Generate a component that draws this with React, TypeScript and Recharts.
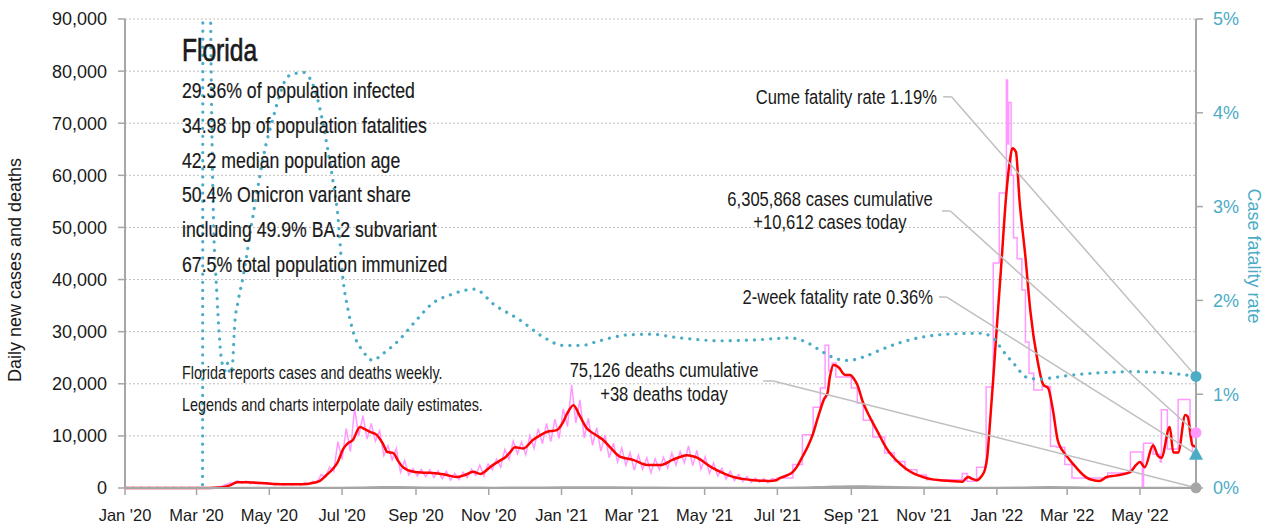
import React from "react";
import {
  ComposedChart,
  Line,
  XAxis,
  YAxis,
  CartesianGrid,
  ReferenceDot,
  ReferenceLine,
} from "recharts";

// ---------------- data ----------------
const xTickDays = [0, 60, 121, 182, 244, 305, 366, 425, 486, 547, 609, 670, 731, 790, 851];
const xTickLabels = [
  "Jan '20", "Mar '20", "May '20", "Jul '20", "Sep '20", "Nov '20",
  "Jan '21", "Mar '21", "May '21", "Jul '21", "Sep '21", "Nov '21",
  "Jan '22", "Mar '22", "May '22",
];
const leftTicks = [0, 10000, 20000, 30000, 40000, 50000, 60000, 70000, 80000, 90000];
const rightTicks = [0, 1, 2, 3, 4, 5];

// 7-day average of new cases (day index since Jan 1 2020)
const avgDays = [
  0, 60, 70, 76, 82, 88, 94, 102, 110, 119, 126, 135, 145, 152, 158, 163, 169, 174, 178, 183,
  187, 191, 197, 201, 205, 211, 216, 220, 225, 229, 233, 242, 250, 258, 268, 278, 285, 292, 298, 302,
  306, 314, 319, 323, 327, 334, 342, 348, 354, 362, 367, 371, 376, 381, 387, 394, 401, 408, 415, 426,
  438, 449, 459, 466, 471, 476, 480, 487, 493, 502, 510, 518, 527, 535, 541, 546, 549, 555, 560, 564,
  568, 573, 577, 580, 583, 586, 589, 591, 594, 597, 599, 602, 604, 608, 611, 614, 619, 623, 627, 632,
  636, 640, 644, 650, 656, 662, 669, 676, 683, 692, 702, 705, 707, 710, 714, 718, 721, 723, 725, 728,
  731, 735, 739, 742, 744, 747, 750, 755, 759, 765, 770, 774, 778, 782, 786, 790, 798, 803, 807, 812,
  817, 823, 828, 834, 843, 848, 851, 855, 862, 866, 869, 876, 879, 883, 889, 891, 895, 898,
];
const avgCases = [
  0, 0, 0, 30, 150, 500, 1100, 1100, 1000, 900, 750, 700, 700, 750, 1000, 1300, 2500, 3600, 4800, 7500,
  8600, 9200, 11700, 11300, 10800, 10200, 8600, 6900, 6700, 5200, 4000, 3100, 2950, 2900, 2600, 2100, 2500, 3100, 2700, 3200,
  4000, 5200, 5900, 6900, 7800, 7600, 9200, 10100, 10800, 11100, 12500, 14400, 15900, 14000, 11500, 10300, 9200, 7500, 6000, 5400,
  4400, 4400, 5400, 6000, 6300, 6100, 5800, 4700, 3800, 2800, 2100, 1750, 1500, 1400, 1350, 1500, 1900, 2400, 3100, 4300,
  6000, 8200, 10500, 12800, 15000, 17000, 18200, 21300, 23600, 23400, 23000, 22000, 21700, 21700, 21000, 19800, 16300, 14300, 12500, 10400,
  8600, 7100, 6000, 4600, 3500, 2700, 2100, 1700, 1500, 1350, 1200, 1800, 2100, 1800, 1500, 2200, 3500, 6000, 11700, 21000,
  30900, 43700, 56600, 62900, 65200, 64500, 55300, 44300, 34200, 24600, 19800, 19200, 15000, 9200, 7200, 6000, 3800, 2600, 1900, 1500,
  1350, 2100, 2300, 2500, 3100, 4500, 5000, 4000, 8200, 6200, 5800, 11700, 6800, 6800, 14000, 13700, 8200, 7900,
];

// daily new cases, Feb 26 2020 - Jun 30 2021, every 3.5 days
const dailyStartDay = 56;
const dailyStepDays = 3.5;
const dailyNoisyCases = [
  0, 0, 10, 20, 50, 80, 200, 300, 600, 900,
  1000, 1400, 900, 1300, 800, 1200, 800, 1100, 700, 900,
  550, 850, 550, 850, 600, 850, 600, 1000, 700, 1300,
  1000, 2600, 2000, 4000, 3200, 8900, 5500, 11400, 7000, 15300,
  10000, 13900, 9400, 12400, 9000, 11000, 6200, 8100, 5400, 7600,
  3000, 5300, 2500, 3700, 2300, 3600, 2200, 3500, 2000, 3300,
  1800, 3200, 1500, 2800, 1600, 3000, 2000, 3600, 2400, 4400,
  2300, 4600, 3500, 5500, 4000, 7400, 5500, 9000, 6600, 8800,
  6400, 10100, 7600, 11400, 8500, 12400, 8900, 13200, 9500, 15200,
  11800, 19800, 12500, 16900, 9600, 13400, 8200, 11600, 7100, 10200,
  5800, 8600, 5000, 7700, 4400, 6800, 3400, 6300, 3600, 5800,
  2900, 5600, 3500, 5900, 3800, 6700, 4400, 7000, 4800, 8100,
  4300, 7200, 3600, 6000, 2800, 4800, 2300, 3800, 1700, 3200,
  1400, 2600, 1200, 2200, 1100, 1900, 1100, 1800, 1000, 1800,
  1600,
];

// weekly-reported daily cases (step values), Jul 2021 onwards
const weeklyDays = [
  546, 560, 568, 577, 583, 587, 590, 593, 596, 609, 614, 619, 627, 637, 645, 654, 664, 672, 702, 706,
  714, 722, 728, 733, 739, 740, 741, 743, 745, 748, 752, 755, 758, 762, 769, 776, 781, 788, 794, 824,
  843, 853, 854, 862, 868, 869, 874, 883, 893, 895, 898,
];
const weeklyCases = [
  1900, 4500, 10200, 15500, 19200, 27400, 22500, 24000, 21300, 19200, 16300, 13000, 9800, 6700, 5100, 3500, 2500, 1600, 2800, 1300,
  4000, 19400, 43200, 56600, 78300, 66000, 74000, 60000, 48000, 44000, 38000, 28000, 22000, 18800, 19500, 8000, 7800, 4500, 1900, 2900,
  6900, 0, 8600, 6500, 5000, 15000, 7500, 17000, 10000, 6700, 10612,
];

// daily deaths
const deathDays = [0, 70, 85, 100, 120, 150, 180, 200, 215, 230, 250, 280, 310, 340, 370, 400, 430, 460, 500, 540, 565, 590, 610, 625, 645, 670, 700, 730, 755, 775, 795, 820, 850, 880, 898];
const deathValues = [0, 0, 20, 50, 50, 40, 60, 120, 180, 170, 120, 90, 70, 90, 150, 150, 110, 70, 60, 40, 80, 250, 350, 300, 200, 100, 40, 50, 120, 180, 130, 50, 30, 30, 38];

// cumulative case fatality rate (%)
const cfrDays = [
  0, 65, 66, 70, 74, 77, 81, 84, 86, 88, 90, 92, 95, 99, 106, 113, 118, 123, 130, 136,
  143, 150, 153, 157, 161, 165, 169, 174, 178, 183, 187, 191, 200, 208, 215, 230, 243, 258, 273, 293,
  310, 330, 352, 367, 383, 398, 420, 440, 465, 499, 530, 558, 572, 585, 596, 606, 620, 633, 650, 669,
  690, 717, 728, 734, 740, 745, 750, 756, 767, 780, 792, 820, 845, 879, 898,
];
const cfrPct = [
  0, 0, 30, 9, 2.96, 2.08, 1.36, 1.25, 1.33, 1.22, 1.3, 1.75, 2.0, 2.25, 2.8, 3.32, 3.65, 3.89, 4.2, 4.38,
  4.42, 4.43, 4.4, 4.32, 4.17, 3.95, 3.68, 3.3, 2.96, 2.2, 1.9, 1.68, 1.45, 1.36, 1.42, 1.58, 1.77, 1.97, 2.06, 2.12,
  1.95, 1.8, 1.6, 1.52, 1.52, 1.57, 1.63, 1.64, 1.6, 1.57, 1.58, 1.6, 1.55, 1.45, 1.38, 1.36, 1.4, 1.47, 1.55, 1.61,
  1.64, 1.65, 1.6, 1.5, 1.4, 1.33, 1.25, 1.18, 1.16, 1.18, 1.2, 1.23, 1.24, 1.22, 1.19,
];

const lastDay = 898;
const todayCases = 10612;
const todayDeaths = 38;
const cumeCfr = 1.19;
const twoWeekCfr = 0.36;

const stateName = "Florida";
const statLines = [
  "29.36% of population infected",
  "34.98 bp of population fatalities",
  "42.2 median population age",
  "50.4% Omicron variant share",
  "including 49.9% BA.2 subvariant",
  "67.5% total population immunized",
];
const noteLines = [
  "Florida reports cases and deaths weekly.",
  "Legends and charts interpolate daily estimates.",
];
const cumeCfrLabel = "Cume fatality rate 1.19%";
const casesLabel = ["6,305,868 cases cumulative", "+10,612 cases today"];
const twoWeekLabel = "2-week fatality rate 0.36%";
const deathsLabel = ["75,126 deaths cumulative", "+38 deaths today"];

// ---------------- styling ----------------
const W = 1282;
const H = 529;
const FONT = "'Liberation Sans',Arial,sans-serif";
const TEAL = "#4BACC6";
const RED = "#FF0000";
const VIOLET = "#FF99FF";
const GRAY = "#A6A6A6";
const LEADER = "#BFBFBF";
const INK = "#1a1a1a";

const zip = (days: number[], vals: number[]) => days.map((day, i) => ({ day, v: vals[i] }));
const avgData = zip(avgDays, avgCases);
const dailyNoisyData = dailyNoisyCases.map((v, i) => ({ day: dailyStartDay + i * dailyStepDays, v }));
const weeklyData = zip(weeklyDays, weeklyCases);
const deathData = zip(deathDays, deathValues);
const cfrData = zip(cfrDays, cfrPct);

const fmtThousands = (v: number) => v.toLocaleString("en-US");
const xLabel = (d: number) => {
  const i = xTickDays.indexOf(d);
  return i >= 0 ? xTickLabels[i] : "";
};

const Triangle = (p: any) => {
  const { cx, cy } = p;
  return (
    <path
      d={`M${cx},${cy - 7.5} L${cx + 7},${cy + 5.5} L${cx - 7},${cy + 5.5} Z`}
      fill={TEAL}
    />
  );
};

// condensed text: regular font squeezed horizontally
const CText = ({
  x, y, size, sx, anchor = "start", fill = INK, bold = 0, children,
}: { x: number; y: number; size: number; sx: number; anchor?: string; fill?: string; bold?: number; children: React.ReactNode }) => (
  <text
    transform={`translate(${x},${y}) scale(${sx},1)`}
    textAnchor={anchor as any}
    fontFamily={FONT}
    fontSize={size}
    fill={fill}
    stroke={bold ? fill : "none"}
    strokeWidth={bold}
  >
    {children}
  </text>
);

export default function App() {
  return (
    <div style={{ position: "absolute", left: 0, top: 0, width: W, height: H, background: "#fff" }}>
      <ComposedChart width={W} height={H} margin={{ top: 19, right: 0, bottom: 0, left: 0 }}>
        <CartesianGrid horizontal vertical={false} stroke="#BFBFBF" strokeDasharray="2 2" />
        <XAxis
          type="number"
          dataKey="day"
          domain={[0, lastDay]}
          ticks={xTickDays}
          interval={0}
          tickFormatter={xLabel}
          height={41}
          tickSize={7}
          tickMargin={14}
          axisLine={{ stroke: GRAY, strokeWidth: 2 }}
          tickLine={{ stroke: GRAY, strokeWidth: 1.5 }}
          tick={{ fontSize: 16.5, fill: INK, fontFamily: FONT }}
        />
        <YAxis
          type="number"
          domain={[0, 90000]}
          ticks={leftTicks}
          interval={0}
          tickFormatter={fmtThousands}
          width={125}
          tickSize={7}
          tickMargin={11}
          axisLine={{ stroke: GRAY, strokeWidth: 2 }}
          tickLine={{ stroke: GRAY, strokeWidth: 1.5 }}
          tick={{ fontSize: 18, fill: INK, fontFamily: FONT }}
        />
        <YAxis
          yAxisId="right"
          orientation="right"
          type="number"
          domain={[0, 5]}
          allowDataOverflow
          ticks={rightTicks}
          interval={0}
          tickFormatter={(v: number) => `${v}%`}
          width={86}
          tickSize={7}
          tickMargin={10}
          axisLine={{ stroke: GRAY, strokeWidth: 2 }}
          tickLine={{ stroke: GRAY, strokeWidth: 1.5 }}
          tick={{ fontSize: 18, fill: TEAL, fontFamily: FONT }}
        />

        <Line data={dailyNoisyData} dataKey="v" type="linear" stroke={VIOLET} strokeWidth={1.5} dot={false} activeDot={false} isAnimationActive={false} />
        <Line data={weeklyData} dataKey="v" type="stepAfter" stroke={VIOLET} strokeWidth={1.5} dot={false} activeDot={false} isAnimationActive={false} />
        <Line data={deathData} dataKey="v" type="monotone" stroke={GRAY} strokeWidth={2} dot={false} activeDot={false} isAnimationActive={false} />
        <Line data={avgData} dataKey="v" type="monotone" stroke={RED} strokeWidth={2.5} dot={false} activeDot={false} isAnimationActive={false} />
        <Line
          data={cfrData}
          dataKey="v"
          yAxisId="right"
          type="monotone"
          stroke={TEAL}
          strokeWidth={3.2}
          strokeDasharray="0.1 8"
          strokeLinecap="round"
          dot={false}
          activeDot={false}
          isAnimationActive={false}
        />

        {/* leader lines */}
        <ReferenceLine yAxisId="right" segment={[{ x: 686, y: 4.17 }, { x: 693, y: 4.17 }]} stroke={LEADER} strokeWidth={1.5} ifOverflow="visible" />
        <ReferenceLine yAxisId="right" segment={[{ x: 693, y: 4.17 }, { x: lastDay, y: cumeCfr }]} stroke={LEADER} strokeWidth={1.5} ifOverflow="visible" />
        <ReferenceLine segment={[{ x: 685, y: 53150 }, { x: 692, y: 53150 }]} stroke={LEADER} strokeWidth={1.5} ifOverflow="visible" />
        <ReferenceLine segment={[{ x: 692, y: 53150 }, { x: lastDay, y: todayCases }]} stroke={LEADER} strokeWidth={1.5} ifOverflow="visible" />
        <ReferenceLine yAxisId="right" segment={[{ x: 682.5, y: 2.036 }, { x: 689, y: 2.036 }]} stroke={LEADER} strokeWidth={1.5} ifOverflow="visible" />
        <ReferenceLine yAxisId="right" segment={[{ x: 689, y: 2.036 }, { x: lastDay, y: twoWeekCfr }]} stroke={LEADER} strokeWidth={1.5} ifOverflow="visible" />
        <ReferenceLine segment={[{ x: 535, y: 20530 }, { x: 543.5, y: 20530 }]} stroke={LEADER} strokeWidth={1.5} ifOverflow="visible" />
        <ReferenceLine segment={[{ x: 543.5, y: 20530 }, { x: lastDay, y: todayDeaths }]} stroke={LEADER} strokeWidth={1.5} ifOverflow="visible" />

        {/* end markers */}
        <ReferenceDot yAxisId="right" x={lastDay} y={cumeCfr} r={5.5} fill={TEAL} stroke="none" ifOverflow="visible" />
        <ReferenceDot x={lastDay} y={todayCases} r={5.5} fill={VIOLET} stroke="none" ifOverflow="visible" />
        <ReferenceDot yAxisId="right" x={lastDay} y={twoWeekCfr} r={6} shape={Triangle} ifOverflow="visible" />
        <ReferenceDot x={lastDay} y={todayDeaths} r={5.5} fill={GRAY} stroke="none" ifOverflow="visible" />
      </ComposedChart>

      <svg width={W} height={H} style={{ position: "absolute", left: 0, top: 0, pointerEvents: "none" }}>
        <CText x={182} y={61} size={31.5} sx={0.78} bold={0.7}>{stateName}</CText>
        {statLines.map((s, i) => (
          <CText key={s} x={182} y={98 + i * 34.8} size={21.5} sx={0.823} bold={0.2}>{s}</CText>
        ))}
        {noteLines.map((s, i) => (
          <CText key={s} x={182} y={379 + i * 32} size={17.5} sx={0.823}>{s}</CText>
        ))}
        <CText x={937} y={104} size={19.5} sx={0.85} anchor="end">{cumeCfrLabel}</CText>
        <CText x={830} y={206} size={19.5} sx={0.85} anchor="middle">{casesLabel[0]}</CText>
        <CText x={830} y={229} size={19.5} sx={0.85} anchor="middle">{casesLabel[1]}</CText>
        <CText x={933} y={304} size={19.5} sx={0.85} anchor="end">{twoWeekLabel}</CText>
        <CText x={664} y={377} size={19.5} sx={0.85} anchor="middle">{deathsLabel[0]}</CText>
        <CText x={664} y={401} size={19.5} sx={0.85} anchor="middle">{deathsLabel[1]}</CText>
        <text transform="translate(21,270) rotate(-90)" textAnchor="middle" fontFamily={FONT} fontSize={18} fill={INK}>
          Daily new cases and deaths
        </text>
        <text transform="translate(1248,256) rotate(90)" textAnchor="middle" fontFamily={FONT} fontSize={18} fill={TEAL}>
          Case fatality rate
        </text>
      </svg>
    </div>
  );
}
